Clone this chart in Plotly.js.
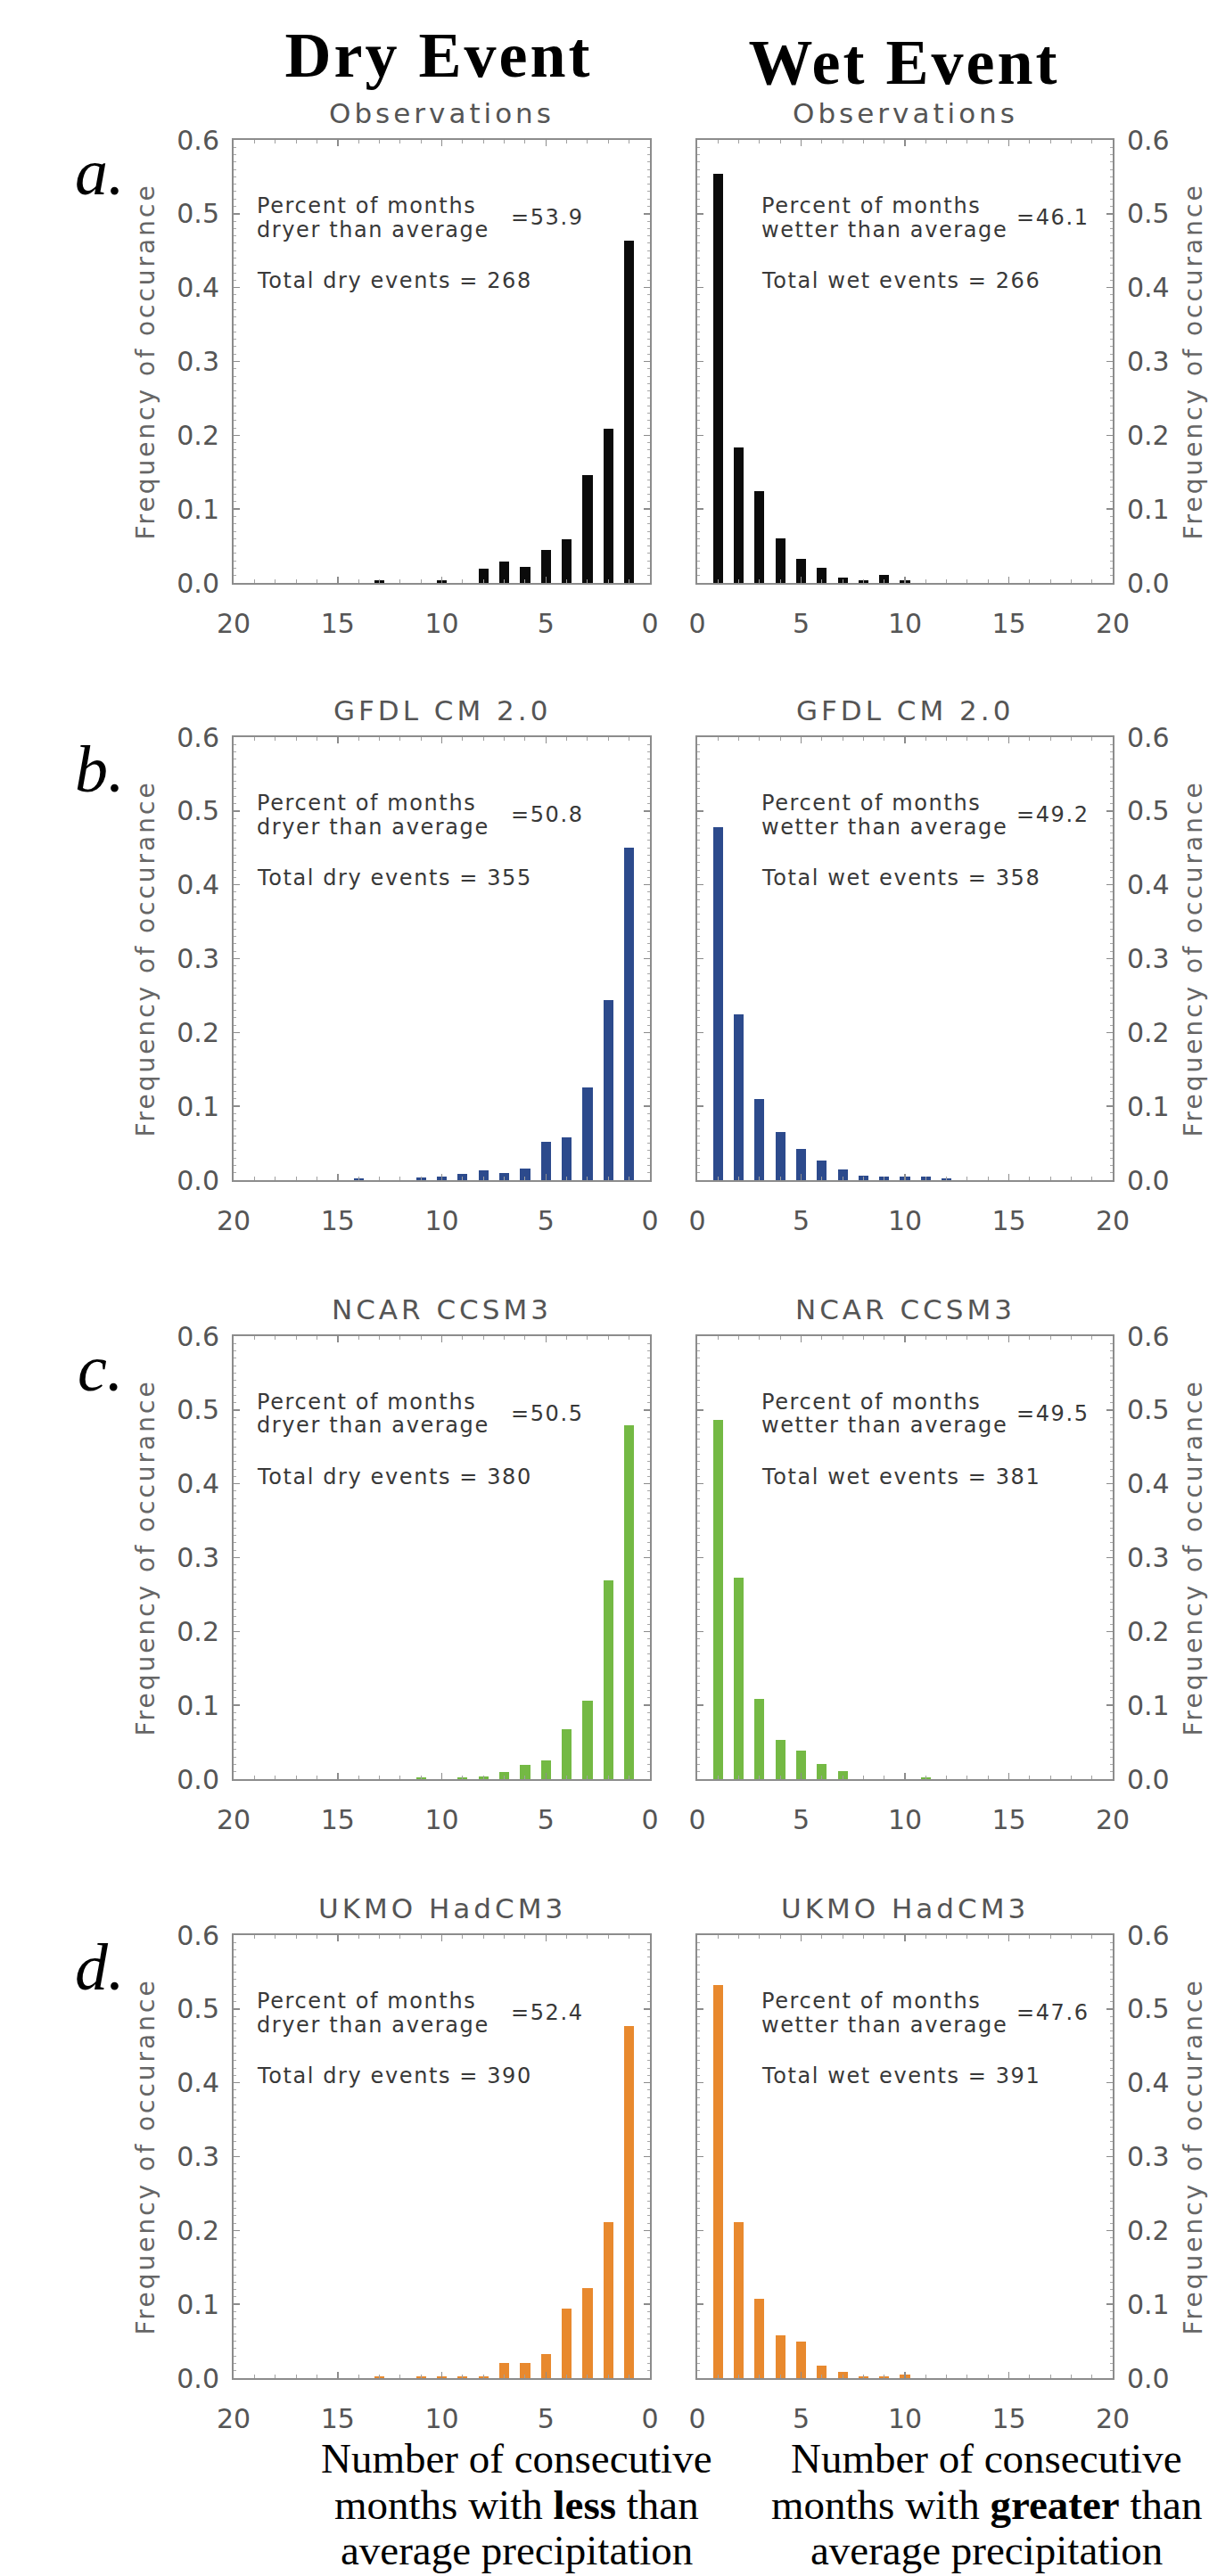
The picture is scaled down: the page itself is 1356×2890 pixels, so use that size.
<!DOCTYPE html>
<html>
<head>
<meta charset="utf-8">
<script src="https://cdn.plot.ly/plotly-3.0.1.min.js"></script>
<style>html,body{margin:0;padding:0;background:#fff;}</style>
</head>
<body>
<div id="chart" style="width:1356px;height:2890px;"></div>
<script>
// ---------------- DATA ----------------
const months = [1,2,3,4,5,6,7,8,9,10,11,12,13,14,15,16,17,18,19,20];
const models = ['Observations', 'GFDL CM 2.0', 'NCAR CCSM3', 'UKMO HadCM3'];
const panelLabels = ['a.', 'b.', 'c.', 'd.'];

const dryObs  = [0.463,0.209,0.146,0.059,0.045,0.022,0.029,0.019,0,0.004,0,0,0.004,0,0,0,0,0,0,0];
const wetObs  = [0.554,0.184,0.124,0.060,0.033,0.020,0.0075,0.004,0.011,0.004,0,0,0,0,0,0,0,0,0,0];
const dryGfdl = [0.450,0.244,0.126,0.058,0.052,0.016,0.010,0.013,0.008,0.005,0.004,0,0,0.003,0,0,0,0,0,0];
const wetGfdl = [0.478,0.225,0.110,0.065,0.042,0.026,0.014,0.0065,0.0045,0.0045,0.0045,0.002,0,0,0,0,0,0,0,0];
const dryNcar = [0.479,0.269,0.106,0.068,0.025,0.0195,0.010,0.004,0.0026,0,0.0026,0,0,0,0,0,0,0,0,0];
const wetNcar = [0.486,0.273,0.109,0.053,0.039,0.020,0.011,0,0,0,0.0026,0,0,0,0,0,0,0,0,0];
const dryUkmo = [0.477,0.211,0.122,0.094,0.032,0.021,0.021,0.0026,0.0026,0.0026,0.0026,0,0.0026,0,0,0,0,0,0,0];
const wetUkmo = [0.532,0.211,0.107,0.058,0.050,0.017,0.0087,0.0026,0.0026,0.005,0,0,0,0,0,0,0,0,0,0];

const dryPct   = [53.9, 50.8, 50.5, 52.4];
const wetPct   = [46.1, 49.2, 49.5, 47.6];
const dryTotal = [268, 355, 380, 390];
const wetTotal = [266, 358, 381, 391];

const xTickVals = [0, 5, 10, 15, 20];

// ---------------- STYLE / LAYOUT ----------------
const drySeries = [dryObs, dryGfdl, dryNcar, dryUkmo];
const wetSeries = [wetObs, wetGfdl, wetNcar, wetUkmo];
const barColors = ['#0b0b0b', '#2c4a8c', '#74b944', '#e8892e'];

const W = 1356, H = 2890;
const colL = [262, 729], colR = [782, 1248];
const panelTop = [157, 827, 1499, 2171];
const panelH = 497;

const IDL = 'DejaVu Sans, sans-serif';
const SERIF = 'Liberation Serif, Times New Roman, serif';
const frameColor = '#8c8c8c';
const tickFont = {family: IDL, size: 30, color: '#555'};

const traces = [];
const layout = {
  width: W, height: H,
  margin: {l: 0, r: 0, t: 0, b: 0},
  paper_bgcolor: '#fff', plot_bgcolor: '#fff',
  showlegend: false,
  bargap: 0,
  annotations: []
};

function xAxis(domain, reversed, yid) {
  return {
    domain: domain,
    range: reversed ? [20, 0] : [0, 20],
    anchor: yid,
    tickmode: 'array', tickvals: xTickVals,
    ticks: 'inside', ticklen: 7, tickwidth: 1.5, tickcolor: frameColor,
    minor: {ticks: 'inside', tickmode: 'linear', tick0: 0, dtick: 1, ticklen: 4, tickwidth: 1, tickcolor: '#a0a0a0'},
    showline: true, linecolor: frameColor, linewidth: 2, mirror: 'ticks',
    showgrid: false, zeroline: false,
    tickfont: tickFont, ticklabelstandoff: 18,
    fixedrange: true
  };
}
function yAxis(domain, side, xid) {
  return {
    domain: domain,
    range: [0, 0.6],
    anchor: xid, side: side,
    tickmode: 'linear', tick0: 0, dtick: 0.1, tickformat: '.1f',
    ticks: 'inside', ticklen: 7, tickwidth: 1.5, tickcolor: frameColor,
    minor: {ticks: 'inside', tickmode: 'linear', tick0: 0, dtick: 0.01, ticklen: 3, tickwidth: 1, tickcolor: '#a8a8a8'},
    showline: true, linecolor: frameColor, linewidth: 2, mirror: 'ticks',
    showgrid: false, zeroline: false,
    tickfont: tickFont, ticklabelstandoff: 8,
    fixedrange: true
  };
}

for (let i = 0; i < 4; i++) {
  const nL = 2 * i + 1, nR = 2 * i + 2;
  const xL = nL === 1 ? 'x' : 'x' + nL, yL = nL === 1 ? 'y' : 'y' + nL;
  const xR = 'x' + nR, yR = 'y' + nR;
  const yDom = [1 - (panelTop[i] + panelH) / H, 1 - panelTop[i] / H];

  layout[nL === 1 ? 'xaxis' : 'xaxis' + nL] = xAxis([colL[0] / W, colL[1] / W], true, yL);
  layout[nL === 1 ? 'yaxis' : 'yaxis' + nL] = yAxis(yDom, 'left', xL);
  layout['xaxis' + nR] = xAxis([colR[0] / W, colR[1] / W], false, yR);
  layout['yaxis' + nR] = yAxis(yDom, 'right', xR);

  traces.push({type: 'bar', x: months, y: drySeries[i], xaxis: xL, yaxis: yL,
    width: 0.48, marker: {color: barColors[i], line: {width: 0}}, hoverinfo: 'skip'});
  traces.push({type: 'bar', x: months, y: wetSeries[i], xaxis: xR, yaxis: yR,
    width: 0.48, marker: {color: barColors[i], line: {width: 0}}, hoverinfo: 'skip'});

  const ann = layout.annotations;
  const titleY = 1 + 30 / panelH;
  // subplot titles
  ann.push({text: models[i], xref: xL + ' domain', yref: yL + ' domain', x: 0.5, y: titleY,
    xanchor: 'center', yanchor: 'middle', showarrow: false, font: {family: IDL, size: 31, color: '#555'}});
  ann.push({text: models[i], xref: xR + ' domain', yref: yR + ' domain', x: 0.5, y: titleY,
    xanchor: 'center', yanchor: 'middle', showarrow: false, font: {family: IDL, size: 31, color: '#555'}});

  // inner text
  const inFont = {family: IDL, size: 24, color: '#383838'};
  const l1 = 1 - 73.7 / panelH, l2 = 1 - 100.5 / panelH, le = 1 - 87 / panelH, lt = 1 - 157.6 / panelH;
  const inner = function (text, xref, yref, x, y) {
    ann.push({text: text, xref: xref, yref: yref, x: x, y: y, xanchor: 'left', yanchor: 'middle',
      align: 'left', showarrow: false, font: inFont});
  };
  inner('Percent of months', xL + ' domain', yL + ' domain', 0.052, l1);
  inner('dryer than average', xL + ' domain', yL + ' domain', 0.052, l2);
  inner('=' + dryPct[i].toFixed(1), xL + ' domain', yL + ' domain', 0.662, le);
  inner('Total dry events = ' + dryTotal[i], xL + ' domain', yL + ' domain', 0.052, lt);

  inner('Percent of months', xR + ' domain', yR + ' domain', 0.151, l1);
  inner('wetter than average', xR + ' domain', yR + ' domain', 0.151, l2);
  inner('=' + wetPct[i].toFixed(1), xR + ' domain', yR + ' domain', 0.764, le);
  inner('Total wet events = ' + wetTotal[i], xR + ' domain', yR + ' domain', 0.151, lt);

  // y axis titles
  const ytFont = {family: IDL, size: 28, color: '#666'};
  ann.push({text: 'Frequency of occurance', xref: 'paper', yref: yL + ' domain', x: 163 / W, y: 0.5, textangle: -90,
    xanchor: 'center', yanchor: 'middle', showarrow: false, font: ytFont});
  ann.push({text: 'Frequency of occurance', xref: 'paper', yref: yR + ' domain', x: 1338 / W, y: 0.5, textangle: -90,
    xanchor: 'center', yanchor: 'middle', showarrow: false, font: ytFont});

  // panel letters
  ann.push({text: '<i>' + panelLabels[i] + '</i>', xref: 'paper', yref: 'paper', x: 112 / W, y: 1 - (panelTop[i] + 36) / H,
    xanchor: 'center', yanchor: 'middle', showarrow: false, font: {family: SERIF, size: 74, color: '#000'}});
}

// column headers
layout.annotations.push({text: '<b>Dry Event</b>', xref: 'paper', yref: 'paper', x: 492 / W, y: 1 - 62 / H,
  xanchor: 'center', yanchor: 'middle', showarrow: false, font: {family: SERIF, size: 72, color: '#000'}});
layout.annotations.push({text: '<b>Wet Event</b>', xref: 'paper', yref: 'paper', x: 1014 / W, y: 1 - 70 / H,
  xanchor: 'center', yanchor: 'middle', showarrow: false, font: {family: SERIF, size: 72, color: '#000'}});

// bottom captions
const capL = ['Number of consecutive', 'months with <b>less</b> than', 'average precipitation'];
const capR = ['Number of consecutive', 'months with <b>greater</b> than', 'average precipitation'];
const capY = [2758, 2810, 2861];
for (let k = 0; k < 3; k++) {
  layout.annotations.push({text: capL[k], xref: 'paper', yref: 'paper', x: 579 / W, y: 1 - capY[k] / H,
    xanchor: 'center', yanchor: 'middle', showarrow: false, font: {family: SERIF, size: 47, color: '#000'}});
  layout.annotations.push({text: capR[k], xref: 'paper', yref: 'paper', x: 1106 / W, y: 1 - capY[k] / H,
    xanchor: 'center', yanchor: 'middle', showarrow: false, font: {family: SERIF, size: 47, color: '#000'}});
}

Plotly.newPlot('chart', traces, layout, {staticPlot: true, displayModeBar: false}).then(function (gd) {
  const spacing = {'31px': '4px', '28px': '3px', '24px': '1.6px', '72px': '3px'};
  gd.querySelectorAll('text.annotation-text').forEach(function (t) {
    const s = spacing[t.style.fontSize];
    if (s) t.style.letterSpacing = s;
  });
});
</script>
</body>
</html>
